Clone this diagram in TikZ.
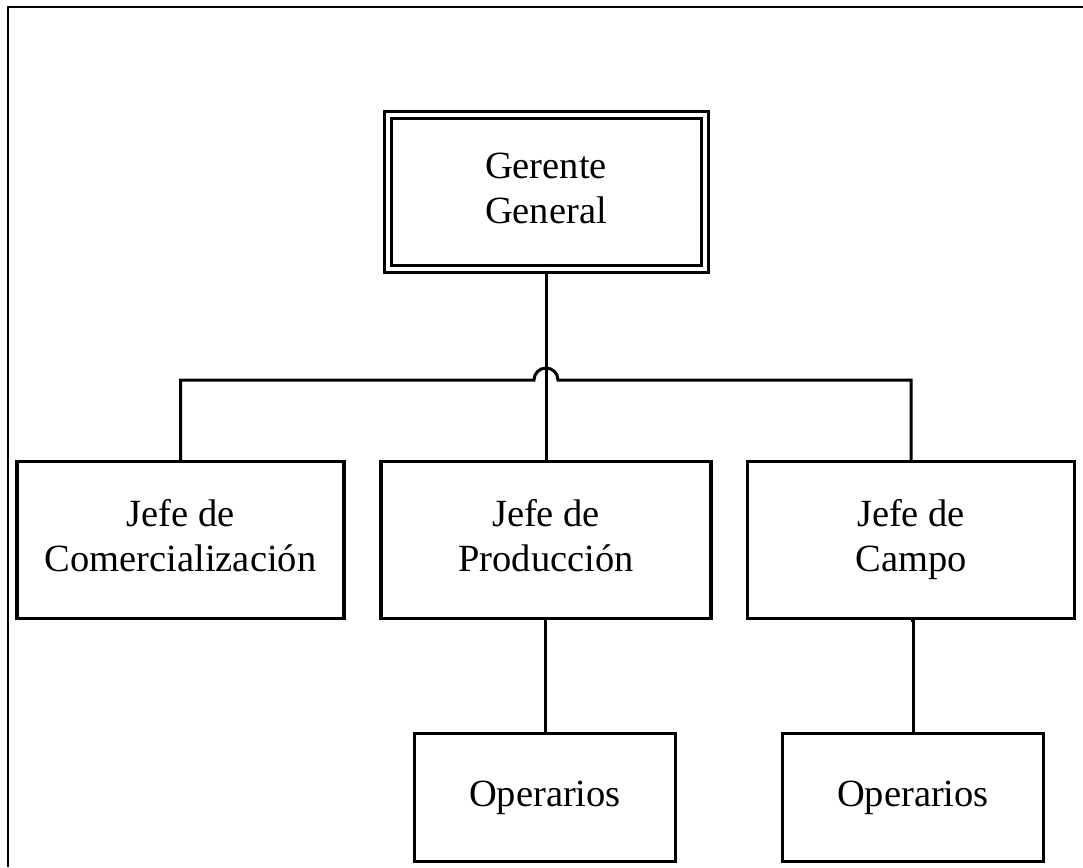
\documentclass[tikz,border=0pt]{standalone}
\usepackage{fontspec}
\setmainfont{Liberation Serif}
\usetikzlibrary{calc}
\begin{document}
\begin{tikzpicture}[x=1pt,y=-1pt,
  box/.style={draw, line width=3.2pt, rectangle, align=center, inner sep=0pt,
    font=\fontsize{38.5}{45}\selectfont, minimum height=157pt},
  wide/.style={box, minimum width=327pt},
  small/.style={box, minimum width=261pt, minimum height=128pt},
  top/.style={box, double, line width=3pt, double distance=4pt, minimum width=317pt, minimum height=154pt},
  conn/.style={line width=3pt}]
\useasboundingbox (0,0) rectangle (1083,867);
\draw[line width=2pt] (8,867) -- (8,7) -- (1083,7);
\node[top] (gg) at (546,192) {Gerente\\General\vphantom{p}};
\node[wide] (comer) at (180.5,540) {Jefe de\\Comercialización\vphantom{p}};
\node[wide, minimum width=330pt] (prod) at (546,540) {Jefe de\\Producción\vphantom{p}};
\node[wide] (campo) at (911,540) {Jefe de\\Campo\vphantom{p}};
\node[small] (op1) at (545,797.5) {Operarios};
\node[small] (op2) at (913,797.5) {Operarios};
\coordinate (hl) at (534,380);
\coordinate (hr) at (558,380);
\coordinate (htop) at (546,368);
\draw[conn] (gg.south) -- (prod.north);
\draw[conn] (comer.north) -- (comer.north |- hl) -- (hl)
  .. controls ($(hl)+(0,-6.6)$) and ($(htop)+(-6.6,0)$) .. (htop)
  .. controls ($(htop)+(6.6,0)$) and ($(hr)+(0,-6.6)$) .. (hr)
  -- (campo.north |- hr) -- (campo.north);
\draw[conn] (prod.south) -- (prod.south -| op1.north) -- (op1.north);
\draw[conn] (campo.south) -- (campo.south -| op2.north) -- (op2.north);
\end{tikzpicture}
\end{document}
